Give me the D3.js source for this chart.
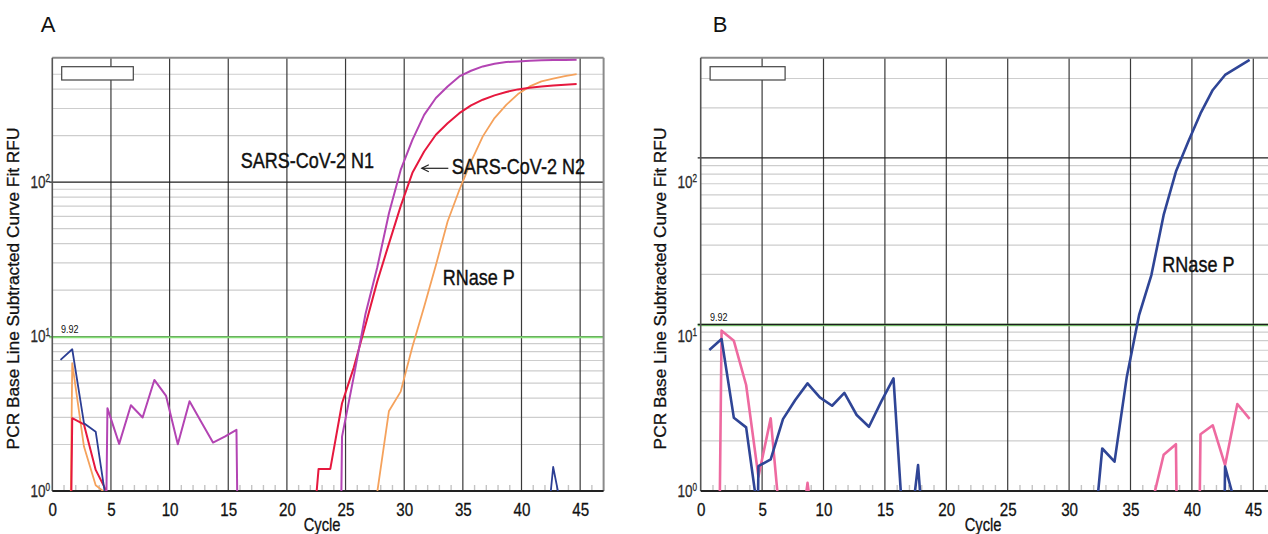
<!DOCTYPE html>
<html><head><meta charset="utf-8">
<script src="https://cdn.jsdelivr.net/npm/d3@7"></script>
<style>body{margin:0;background:#fff}svg{display:block}</style>
</head><body><svg id="c" width="1268" height="534"></svg>
<script>
// ---------------- data ----------------
const U = 1e-6; // below baseline (negative RFU), off the log axis
const cycles = [0.7,1.7,2.7,3.7,4.7,5.7,6.7,7.7,8.7,9.7,10.7,11.7,12.7,13.7,14.7,15.7,16.7,17.7,18.7,19.7,20.7,21.7,22.7,23.7,24.7,25.7,26.7,27.7,28.7,29.7,30.7,31.7,32.7,33.7,34.7,35.7,36.7,37.7,38.7,39.7,40.7,41.7,42.7,43.7,44.7];
const xTicks = [0,5,10,15,20,25,30,35,40,45];
const yTickExp = [0,1,2];
const threshold = 9.92;

// Panel A
const blueA   = [7.06,8.28,2.75,2.42,0.75,U,U,U,U,U,U,U,U,U,U,U,U,U,U,U,U,U,U,U,U,U,U,U,U,U,U,U,U,U,U,U,U,U,U,U,U,0.24,1.43,0.59,0.1];
const orangeA = [U,6.73,1.94,1.09,0.95,U,U,U,U,U,U,U,U,U,U,U,U,U,U,U,U,U,U,U,U,U,U,0.98,3.3,4.4,8.6,15.6,29,55.6,89,136,198,260,317,372,417,450,468,487,501];
const redA    = [U,2.96,2.7,1.37,0.97,U,U,U,U,U,U,U,U,U,U,U,U,U,U,U,U,0.18,1.39,1.39,3.7,6.3,11.9,22.7,40,70,115,158,203,241,280,314,342,365,384,399,409,417,423,428,432];
const purpleA = [U,U,U,U,3.44,2.02,3.59,2.99,5.24,4.13,2.01,3.81,2.8,2.06,2.25,2.49,U,U,U,U,U,U,U,U,2.25,5.5,14,28,63,120,188,273,351,417,484,527,562,585,600,605,612,615,618,618,620];
// Panel B
const blueB1  = [7.03,8.18,2.75,2.41,0.70,U,U,U,U,U,U,U,U,U,U,U,U,U,U,U,U,U,U,U,U,U,U,U,U,U,U,U,U,U,U,U,U,U,U,U,U,U,1.40,0.75,0.1];
const blueB2  = [U,U,U,U,1.41,1.55,2.70,3.52,4.43,3.65,3.25,3.88,2.86,2.43,3.44,4.75,0.34,1.43,0.15,U,U,U,U,U,U,U,U,U,U,U,U,0.30,1.80,1.50,4.86,11.4,19.8,45.5,82.8,125,185,256,315,350,388];
const pinkB   = [U,9.18,7.98,4.33,1.22,2.73,0.42,0.3,1.12,0.3,U,U,U,U,U,U,U,U,U,U,U,U,U,U,U,U,U,U,U,U,U,U,U,U,U,U,0.81,1.65,1.91,U,2.19,2.48,1.43,3.33,2.71];

const annA = [
  {text:"SARS-CoV-2 N1", c:16.06, v:124},
  {text:"SARS-CoV-2 N2", c:34.05, v:113},
  {text:"RNase P", c:33.28, v:21.6}
];
const arrowA = {c0:33.76, c1:31.5, v:123};
const annB = [{text:"RNase P", c:37.59, v:20.7}];

// ---------------- drawing ----------------
const svg = d3.select('#c');
const NARROW = "'Liberation Sans Narrow','Arial Narrow','Liberation Sans',Arial,sans-serif";
const SANS = "'Liberation Sans',Arial,sans-serif";
const SX = 0.82; // horizontal condensing (Arial Narrow look)

function ntext(x, y, size, str, anchor, heavy){
  const t = svg.append('text').attr('transform', `translate(${x},${y}) scale(${SX},1)`)
    .attr('text-anchor', anchor || 'start').attr('font-family', NARROW)
    .attr('font-size', size).attr('fill', '#111').text(str);
  if (heavy) t.attr('stroke', '#111').attr('stroke-width', heavy);
  return t;
}

function panel(cfg){
  const x = d3.scaleLinear().domain([0,47]).range([cfg.x0, cfg.x1]);
  const y = d3.scaleLog().domain([1, cfg.yMax]).range([491, 57.7]);
  const labY = cfg.labelScale || y;
  const top = 57.7, bot = 491;
  const g = svg.append('g');
  const id = 'clip' + cfg.name;
  svg.append('clipPath').attr('id', id).append('rect')
    .attr('x', cfg.x0).attr('y', top).attr('width', cfg.x1 - cfg.x0).attr('height', bot - top);

  // minor horizontal gridlines
  const minors = [];
  [1,10,100].forEach(d => { for (let m = 2; m <= 9; m++) { const v = d*m; if (v < cfg.yMax && y(v) - top > 5) minors.push(v); } });
  g.selectAll('line.mh').data(minors).join('line')
    .attr('x1', cfg.x0).attr('x2', cfg.x1).attr('y1', d => y(d)).attr('y2', d => y(d))
    .attr('stroke', '#cdcdcd').attr('stroke-width', 1.2);

  // vertical gridlines
  g.selectAll('line.vg').data(xTicks.filter(t => t > 0)).join('line')
    .attr('x1', d => x(d)).attr('x2', d => x(d)).attr('y1', top).attr('y2', bot)
    .attr('stroke', '#3a3a3a').attr('stroke-width', 1.2);

  // minor x ticks
  const mt = d3.range(1, 47).filter(t => t % 5 !== 0);
  g.selectAll('line.mt').data(mt).join('line')
    .attr('x1', d => x(d)).attr('x2', d => x(d)).attr('y1', bot - 6).attr('y2', bot)
    .attr('stroke', '#c4c4c4').attr('stroke-width', 1.4);

  const drawThr = () => g.append('line')
    .attr('x1', cfg.x0 - 3).attr('x2', cfg.x1).attr('y1', y(threshold)).attr('y2', y(threshold))
    .attr('stroke', '#86df78').attr('stroke-width', cfg.thrOnTop ? 2 : 2.6);
  const drawMaj = () => g.selectAll('line.mj').data([10,100]).join('line')
    .attr('x1', cfg.x0 - 3).attr('x2', cfg.x1).attr('y1', d => y(d)).attr('y2', d => y(d))
    .attr('stroke', '#1e1e1e').attr('stroke-width', 1.3);
  if (cfg.thrOnTop) { drawMaj(); drawThr(); } else { drawThr(); drawMaj(); }

  // borders
  g.append('line').attr('x1', cfg.x0).attr('x2', cfg.x1).attr('y1', top).attr('y2', top)
    .attr('stroke', '#8a8a8a').attr('stroke-width', 2);
  g.append('line').attr('x1', cfg.x1).attr('x2', cfg.x1).attr('y1', top).attr('y2', bot)
    .attr('stroke', '#8a8a8a').attr('stroke-width', 2);
  g.append('line').attr('x1', cfg.x0).attr('x2', cfg.x0).attr('y1', top).attr('y2', bot)
    .attr('stroke', '#555').attr('stroke-width', 1.6);

  // series
  const line = d3.line().x((d,i) => x(cycles[i])).y(d => y(d));
  const lg = svg.append('g').attr('clip-path', `url(#${id})`);
  cfg.series.forEach(s => {
    lg.append('path').attr('d', line(s.values)).attr('fill', 'none')
      .attr('stroke', s.color).attr('stroke-width', s.w).attr('stroke-linejoin', 'round');
  });

  // bottom axis
  g.append('line').attr('x1', cfg.x0).attr('x2', cfg.x1).attr('y1', bot).attr('y2', bot)
    .attr('stroke', '#222').attr('stroke-width', 1.8);
  const ax = svg.append('g').attr('transform', `translate(0,${bot})`)
    .call(d3.axisBottom(x).tickValues(xTicks).tickSize(0).tickPadding(12));
  ax.select('.domain').remove();
  ax.selectAll('text').attr('font-family', NARROW).attr('font-size', 18.5).attr('fill', '#111')
    .attr('stroke', '#111').attr('stroke-width', 0.3)
    .attr('transform', `scale(${SX},1)`);

  // y tick labels
  yTickExp.forEach(e => {
    const t = ntext(cfg.labX, labY(Math.pow(10, e)) + 5.8, 16.5, null, 'end', 0.25).attr('fill', '#333');
    t.append('tspan').text('10');
    t.append('tspan').text(String(e)).attr('font-size', 10).attr('dy', -6);
  });

  // threshold label
  ntext(x(0.75), y(threshold) - 4, 11, threshold.toFixed(2));

  // box
  g.append('rect').attr('x', cfg.x0 + 9.4).attr('y', top + 9).attr('width', cfg.boxW).attr('height', 13.3)
    .attr('fill', '#fff').attr('stroke', '#444').attr('stroke-width', 1.2);

  // axis titles
  svg.append('text').attr('transform', `translate(${cfg.titleX},288.5) rotate(-90)`)
    .attr('text-anchor', 'middle').attr('font-family', SANS).attr('font-size', 17.3).attr('fill', '#111')
    .attr('stroke', '#111').attr('stroke-width', 0.3)
    .text('PCR Base Line Subtracted Curve Fit RFU');
  ntext(x(23), 530.5, 18, 'Cycle', 'middle', 0.3);

  // panel letter
  svg.append('text').attr('x', cfg.letterX).attr('y', 32).attr('font-family', SANS)
    .attr('font-size', 22).attr('fill', '#111').text(cfg.name);

  // annotations
  cfg.ann.forEach(a => ntext(x(a.c), y(a.v), 22, a.text, 'start', 0.4));
  if (cfg.arrow) {
    const ar = cfg.arrow, yy = y(ar.v), x1 = x(ar.c1);
    svg.append('line').attr('x1', x(ar.c0)).attr('x2', x1).attr('y1', yy).attr('y2', yy)
      .attr('stroke', '#222').attr('stroke-width', 1.2);
    svg.append('path').attr('d', `M${x1+7},${yy-3.5} L${x1},${yy} L${x1+7},${yy+3.5}`)
      .attr('fill', 'none').attr('stroke', '#222').attr('stroke-width', 1.2);
  }
  return {x, y};
}

const A = panel({
  name: 'A', x0: 52.3, x1: 52.3 + 47*11.73, yMax: 640, thrOnTop: true,
  labX: 50, titleX: 19, letterX: 40.7, boxW: 71.6,
  series: [
    {values: orangeA, color: '#f5a25c', w: 1.8},
    {values: redA, color: '#e6183e', w: 2},
    {values: blueA, color: '#2c3e94', w: 1.8},
    {values: purpleA, color: '#b344b3', w: 2}
  ],
  ann: annA, arrow: arrowA
});
panel({
  name: 'B', x0: 700.7, x1: 700.7 + 47*12.28, yMax: 400, thrOnTop: false,
  labX: 697, titleX: 666, letterX: 712.7, boxW: 75, labelScale: A.y,
  series: [
    {values: pinkB, color: '#ee6aa0', w: 2.6},
    {values: blueB1, color: '#2f4596', w: 2.6},
    {values: blueB2, color: '#2f4596', w: 2.6}
  ],
  ann: annB
});
</script>
</body></html>
